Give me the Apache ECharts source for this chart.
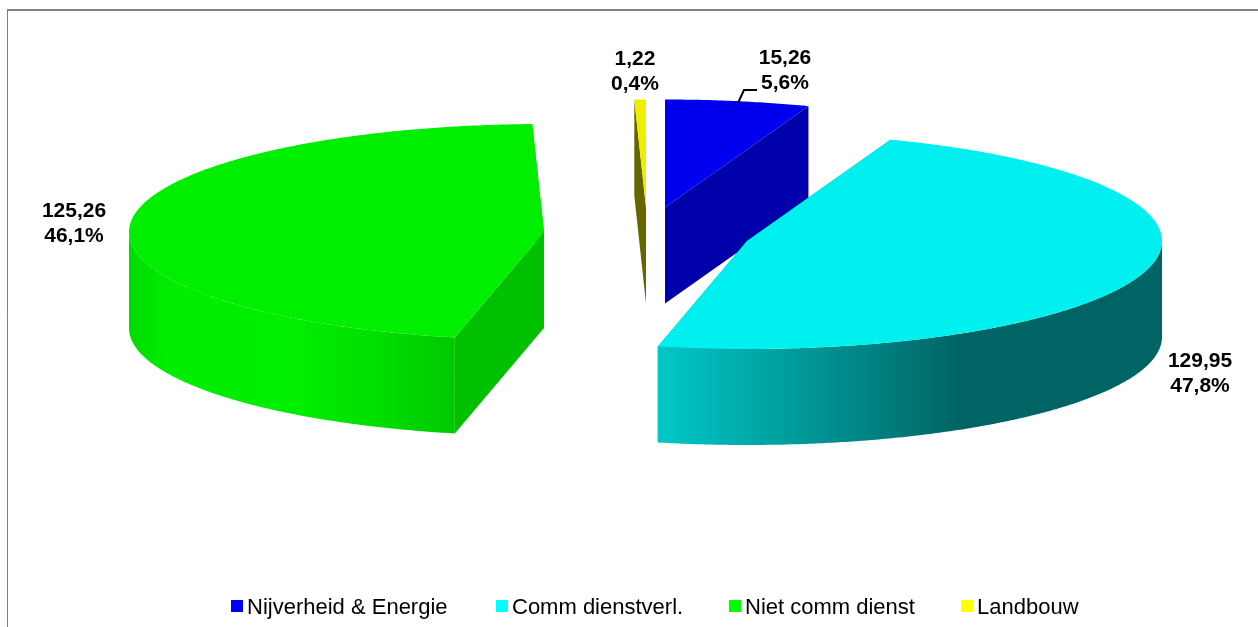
<!DOCTYPE html>
<html>
<head>
<meta charset="utf-8">
<style>html,body{margin:0;padding:0;background:#fff}#c{width:1258px;height:627px}</style>
<script src="https://cdn.jsdelivr.net/npm/echarts@6/dist/echarts.min.js"></script>
</head>
<body>
<div id="c"></div>
<script>
const categories = ['Nijverheid & Energie', 'Comm dienstverl.', 'Niet comm dienst', 'Landbouw'];
const values = [15.26, 129.95, 125.26, 1.22];
const legendColors = ['#0000ff', '#00ffff', '#00ff00', '#ffff00'];
const legendLefts = [231, 496, 729, 961];
const topColors = ['#0000ee', '#00f0f0', '#00ee00', '#eeee00'];
const faceColors = ['#0000aa', '#00a0a0', '#00c000', '#666600'];
const apexes = [[665, 207.5], [747, 241], [544, 232], [646, 207.5]];
const labelAnchors = [[785, 71], [1200, 374], [74, 224], [635, 72]];
const zOrder = [1, 3, 2, 1];
const wallStops = [
  [[0, '#0000aa'], [1, '#000066']],
  [[0, '#00c8c8'], [0.6, '#006464'], [1, '#006464']],
  [[0, '#00dc00'], [0.12, '#00ec00'], [0.5, '#00ee00'], [0.75, '#00e000'], [1, '#00c800']],
  [[0, '#666600'], [1, '#666600']]
];
const RX = 415, RY = 108, DEPTH = 96;
const total = values.reduce((a, b) => a + b, 0);
const fmt = (v, d) => v.toFixed(d).replace('.', ',');

function startAngle(i) {
  let s = 0;
  for (let k = 0; k < i; k++) s += values[k];
  return s / total * 2 * Math.PI;
}
function rim(apex, a, dy) {
  return [apex[0] + RX * Math.sin(a), apex[1] - RY * Math.cos(a) + (dy || 0)];
}
function arc(apex, a0, a1, dy) {
  const n = Math.max(2, Math.ceil((a1 - a0) * 120)), pts = [];
  for (let j = 0; j <= n; j++) pts.push(rim(apex, a0 + (a1 - a0) * j / n, dy));
  return pts;
}
function face(apex, a) {
  const r = rim(apex, a);
  return [[apex[0], apex[1]], r, [r[0], r[1] + DEPTH], [apex[0], apex[1] + DEPTH]];
}
function renderSlice(i) {
  return function (params, api) {
    const v = api.value(0);
    const a0 = startAngle(i), a1 = a0 + v / total * 2 * Math.PI;
    const apex = apexes[i];
    const children = [];
    children.push({ type: 'polygon', shape: { points: face(apex, a0) }, style: { fill: faceColors[i] } });
    children.push({ type: 'polygon', shape: { points: face(apex, a1) }, style: { fill: faceColors[i] } });
    const w0 = Math.max(a0, Math.PI / 2), w1 = Math.min(a1, Math.PI * 1.5);
    if (w1 > w0) {
      const upper = arc(apex, w0, w1, 0), lower = arc(apex, w0, w1, DEPTH).reverse();
      const grad = i === 1 || i === 2
        ? new echarts.graphic.LinearGradient(0, 0, 1, 0, wallStops[i].map(s => ({ offset: s[0], color: s[1] })))
        : faceColors[i];
      children.push({ type: 'polygon', shape: { points: upper.concat(lower) }, style: { fill: grad } });
    }
    const topPts = [[apex[0], apex[1]]].concat(arc(apex, a0, a1, 0));
    children.push({ type: 'polygon', shape: { points: topPts }, style: { fill: topColors[i] } });
    if (i === 0) {
      children.push({ type: 'polyline', shape: { points: [[738, 103], [744, 90], [757, 90]] },
        style: { stroke: '#000', lineWidth: 2, fill: 'none' } });
    }
    children.push({
      type: 'text',
      style: {
        x: labelAnchors[i][0], y: labelAnchors[i][1],
        text: fmt(v, 2) + '\n' + fmt(v / total * 100, 1) + '%',
        font: 'bold 21px "Liberation Sans", Arial, sans-serif',
        lineHeight: 25, align: 'center', verticalAlign: 'middle', fill: '#000'
      }
    });
    return { type: 'group', children };
  };
}

const chart = echarts.init(document.getElementById('c'), null, { renderer: 'canvas' });
chart.setOption({
  animation: false,
  backgroundColor: '#ffffff',
  legend: categories.map((name, i) => ({
    data: [name],
    left: legendLefts[i], top: 597, padding: 0,
    itemWidth: 12, itemHeight: 12,
    icon: 'rect', selectedMode: false,
    formatter: n => '{t|' + n + '}',
    textStyle: {
      color: '#000', fontSize: 22, fontFamily: '"Liberation Sans", Arial, sans-serif',
      rich: { t: { color: '#000', fontSize: 22, fontFamily: '"Liberation Sans", Arial, sans-serif', padding: [4, 0, 0, -1] } }
    }
  })),
  graphic: [
    { type: 'line', shape: { x1: 7, y1: 10, x2: 1258, y2: 10 }, style: { stroke: '#808080', lineWidth: 2 } },
    { type: 'line', shape: { x1: 7.5, y1: 10, x2: 7.5, y2: 627 }, style: { stroke: '#808080', lineWidth: 1 } }
  ],
  series: categories.map((name, i) => ({
    type: 'custom',
    name,
    coordinateSystem: 'none',
    z: zOrder[i],
    silent: true,
    itemStyle: { color: legendColors[i] },
    data: [[values[i]]],
    renderItem: renderSlice(i)
  }))
});
</script>
</body>
</html>
